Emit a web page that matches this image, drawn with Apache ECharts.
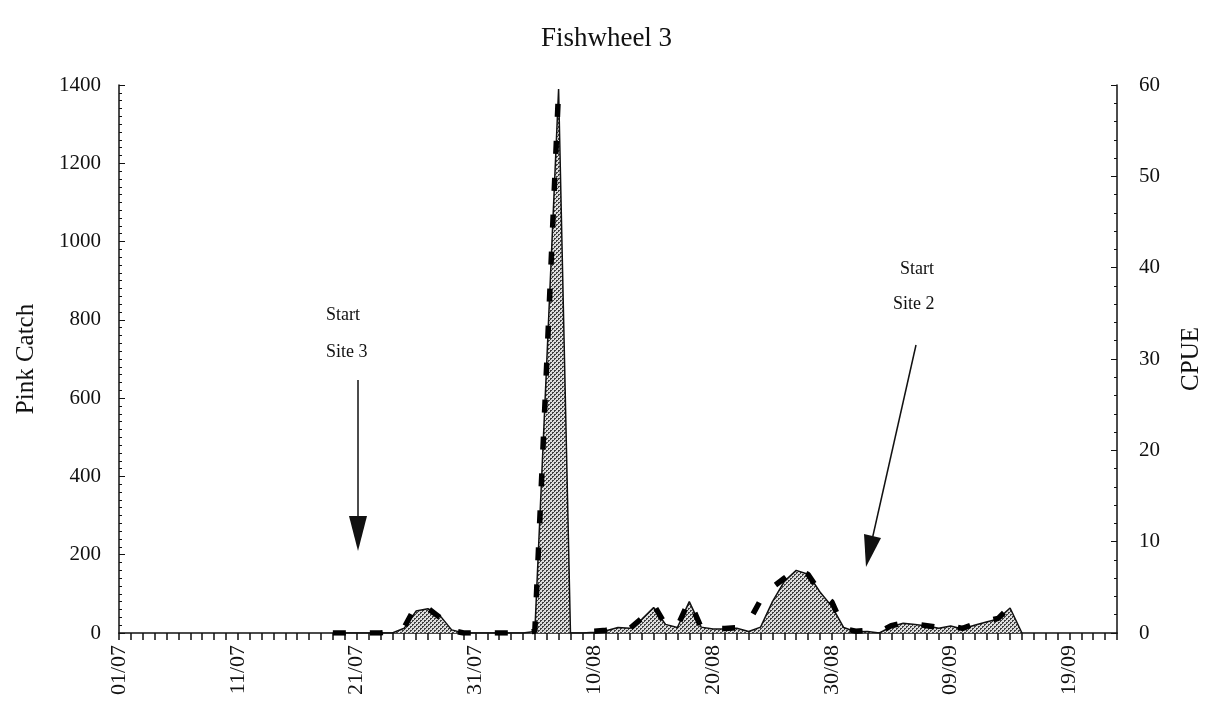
<!DOCTYPE html>
<html>
<head>
<meta charset="utf-8">
<script src="https://cdn.jsdelivr.net/npm/echarts@6/dist/echarts.min.js"></script>
<style>
  html, body { margin: 0; padding: 0; background: #fff; }
  #chart { width: 1213px; height: 723px; }
</style>
</head>
<body>
<div id="chart"></div>
<script>
// days 01/07 .. 23/09
const days = [];
for (let d = new Date(2001, 6, 1); d <= new Date(2001, 8, 23); d.setDate(d.getDate() + 1)) {
    days.push(String(d.getDate()).padStart(2, '0') + '/' + String(d.getMonth() + 1).padStart(2, '0'));
}

const pinkTicks = [0, 200, 400, 600, 800, 1000, 1200, 1400];
const cpueTicks = [0, 10, 20, 30, 40, 50, 60];

const _ = null;
// Pink catch per day (index 0 = 01/07)
const pinkCatch = [
    _, _, _, _, _, _, _, _, _, _, _, _, _, _, _, _, _, _,
    0, 0, 0, 0, 0, 0, 12, 56, 62, 45, 8, 0,
    0, 0, 0, 0, 0, 4, 690, 1390, 0, 0,
    2, 6, 14, 12, 35, 65, 22, 14, 80, 15,
    10, 10, 12, 4, 15, 80, 132, 160, 150, 105,
    68, 14, 3, 4, 0, 16, 25, 22, 18, 12,
    18, 10, 20, 28, 36, 64, 0,
    _, _, _, _, _, _, _, _
];

// CPUE per day
const cpue = [
    _, _, _, _, _, _, _, _, _, _, _, _, _, _, _, _, _, _,
    0, 0, 0, 0, 0, 0.2, 0.6, 3.0, 2.7, 1.7, 0.3, 0,
    0, 0, 0, 0, 0, 0.2, 29.5, 59.5, _, _,
    0.2, 0.3, 0.6, 0.5, 1.6, 3.1, 0.9, 0.7, 3.6, 0.6,
    0.5, 0.5, 0.6, 1.2, 3.6, 5.0, 6.0, 7.0, 6.4, 4.5,
    3.4, 0.5, 0.2, 0.3, 0.1, 0.8, 1.1, 1.0, 0.8, 0.6,
    0.8, 0.5, 1.0, 1.3, 1.6, 2.9, _,
    _, _, _, _, _, _, _, _
];

// stipple fill
const tile = document.createElement('canvas');
tile.width = 4;
tile.height = 4;
const tc = tile.getContext('2d');
tc.fillStyle = '#dcdcdc';
tc.fillRect(0, 0, 4, 4);
tc.fillStyle = '#404040';
tc.fillRect(0, 0, 2, 1);
tc.fillRect(0, 1, 1, 1);
tc.fillRect(2, 2, 2, 1);
tc.fillRect(2, 3, 1, 1);

const serif = 'Liberation Serif';
const chart = echarts.init(document.getElementById('chart'));

const textStyle = { fontFamily: serif, fontSize: 18, fill: '#111' };

const option = {
    animation: false,
    backgroundColor: '#fff',
    textStyle: { fontFamily: serif },
    title: {
        text: 'Fishwheel 3',
        left: 'center',
        top: 20,
        textStyle: { fontFamily: serif, fontSize: 27, fontWeight: 'normal', color: '#111' }
    },
    grid: { left: 119, right: 96, top: 85, bottom: 90 },
    xAxis: {
        type: 'category',
        data: days,
        boundaryGap: false,
        axisLine: { lineStyle: { color: '#111', width: 1.5 } },
        axisTick: { interval: 0, length: 7, lineStyle: { color: '#111', width: 1.5 } },
        axisLabel: {
            interval: 9,
            rotate: 90,
            margin: 12,
            fontFamily: serif,
            fontSize: 22,
            color: '#111'
        },
        splitLine: { show: false }
    },
    yAxis: [
        {
            type: 'value',
            min: 0,
            max: 1400,
            interval: 200,
            name: 'Pink Catch',
            nameLocation: 'middle',
            nameGap: 80,
            nameTextStyle: { fontFamily: serif, fontSize: 25, color: '#111' },
            axisLine: { show: true, lineStyle: { color: '#111', width: 1.5 } },
            axisTick: { show: true, inside: true, length: 6, lineStyle: { color: '#111' } },
            minorTick: { show: true, splitNumber: 10, length: 3, lineStyle: { color: '#111' } },
            axisLabel: {
                fontFamily: serif, fontSize: 21, color: '#111', margin: 18,
                formatter: function (v) { return String(v); }
            },
            splitLine: { show: false }
        },
        {
            type: 'value',
            min: 0,
            max: 60,
            interval: 10,
            name: 'CPUE',
            nameLocation: 'middle',
            nameGap: 62,
            nameRotate: 90,
            nameTextStyle: { fontFamily: serif, fontSize: 25, color: '#111' },
            axisLine: { show: true, lineStyle: { color: '#111', width: 1.5 } },
            axisTick: { show: true, inside: true, length: 6, lineStyle: { color: '#111' } },
            minorTick: { show: true, splitNumber: 5, length: 3, lineStyle: { color: '#111' } },
            axisLabel: { fontFamily: serif, fontSize: 21, color: '#111', margin: 22 },
            splitLine: { show: false }
        }
    ],
    series: [
        {
            name: 'Pink Catch',
            type: 'line',
            data: pinkCatch,
            yAxisIndex: 0,
            symbol: 'none',
            lineStyle: { color: '#111', width: 1.5 },
            areaStyle: { color: { image: tile, repeat: 'repeat' }, opacity: 1 },
            z: 2
        },
        {
            name: 'CPUE',
            type: 'line',
            data: cpue,
            yAxisIndex: 1,
            symbol: 'none',
            lineStyle: { color: '#000', width: 5.5, type: [13, 24] },
            z: 3
        }
    ],
    graphic: [
        { type: 'text', left: 326, top: 306, style: Object.assign({ text: 'Start' }, textStyle) },
        { type: 'text', left: 326, top: 343, style: Object.assign({ text: 'Site 3' }, textStyle) },
        { type: 'line', shape: { x1: 358, y1: 380, x2: 358, y2: 522 }, style: { stroke: '#111', lineWidth: 1.5 } },
        { type: 'polygon', shape: { points: [[349, 516], [367, 516], [358, 551]] }, style: { fill: '#111' } },
        { type: 'text', left: 900, top: 260, style: Object.assign({ text: 'Start' }, textStyle) },
        { type: 'text', left: 893, top: 295, style: Object.assign({ text: 'Site 2' }, textStyle) },
        { type: 'line', shape: { x1: 916, y1: 345, x2: 872, y2: 540 }, style: { stroke: '#111', lineWidth: 1.5 } },
        { type: 'polygon', shape: { points: [[881, 538], [864, 534], [866, 567]] }, style: { fill: '#111' } }
    ]
};

option && chart.setOption(option);

window.addEventListener('resize', function () {
    chart.resize();
});
</script>
</body>
</html>
